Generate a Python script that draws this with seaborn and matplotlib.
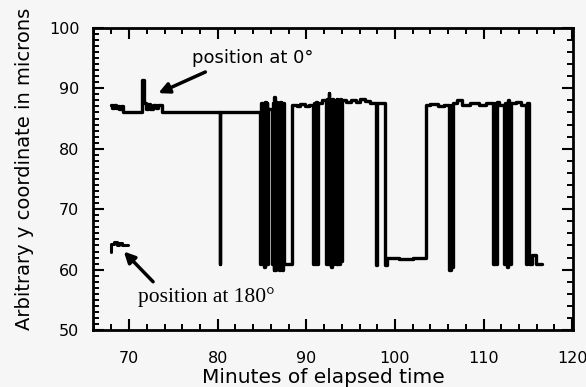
import matplotlib
matplotlib.use('Agg')
import matplotlib.pyplot as plt
import seaborn as sns
import pandas as pd
from matplotlib.ticker import MultipleLocator

# trace of the bead position (step data: value holds until next time)
t_main = [67.9, 68.1, 68.3, 68.5, 68.7, 68.9, 69.1, 69.3,
          71.5, 71.65, 71.9, 72.1, 72.4, 72.7, 73.0, 73.3, 73.7,
          80.2, 80.3,
          84.8, 84.9, 85.0, 85.1, 85.2, 85.3, 85.4, 85.5, 85.6, 85.7,
          86.1, 86.2, 86.3, 86.4, 86.5, 86.6, 86.7, 86.8, 86.9, 87.0,
          87.1, 87.2, 87.3, 87.4, 87.5, 87.6,
          88.4, 88.9, 89.3, 89.8, 90.3,
          90.8, 90.9, 91.0, 91.1, 91.2, 91.35, 91.8,
          92.2, 92.3, 92.4, 92.5, 92.6, 92.7, 92.8, 92.9, 93.0, 93.1,
          93.3, 93.4, 93.5, 93.6, 93.7, 93.8, 93.9, 94.05,
          94.5, 95.0, 95.6, 96.1, 96.6, 97.2,
          97.9, 98.0, 98.9, 99.1,
          100.5, 102.0, 103.5,
          104.0, 104.8, 105.5, 106.1, 106.3, 106.45, 106.6, 107.0, 107.6,
          108.5, 109.5, 110.3, 111.1, 111.25, 111.4, 111.55, 111.7,
          112.3, 112.45, 112.6, 112.75, 112.9, 113.05, 113.6, 114.2,
          114.8, 114.95, 115.15, 115.5, 115.9, 116.6]
y_main = [87.3, 86.7, 87.3, 86.8, 87.0, 86.6, 87.1, 86.0,
          91.4, 87.5, 86.6, 87.4, 86.6, 87.3, 86.7, 87.2, 86.0,
          61.0, 86.0,
          61.0, 87.6, 61.0, 87.5, 60.5, 87.7, 61.0, 87.5, 61.0, 86.5,
          61.0, 87.6, 60.0, 88.5, 60.0, 87.7, 61.0, 87.5, 60.0, 87.7,
          61.0, 87.5, 60.0, 87.6, 61.0, 61.0,
          87.2, 87.0, 87.4, 87.1, 87.3,
          61.0, 87.5, 61.0, 87.8, 61.0, 87.6, 88.0,
          61.0, 88.2, 61.0, 89.2, 61.0, 88.0, 60.5, 88.3, 61.0, 88.0,
          61.0, 88.2, 61.0, 88.0, 61.0, 88.3, 61.5, 88.0,
          87.8, 88.1, 87.8, 88.2, 87.9, 87.6,
          60.8, 87.5, 60.8, 62.0,
          61.7, 62.0, 87.2,
          87.4, 87.1, 87.3, 60.0, 87.3, 60.5, 87.5, 88.0, 87.2,
          87.5, 87.2, 87.6, 61.0, 87.5, 61.0, 87.8, 87.3,
          61.0, 87.5, 60.5, 88.0, 61.0, 87.5, 87.8, 87.2,
          61.0, 87.5, 61.0, 62.4, 61.0, 61.0]

# short record at the 180 degree position
t_180 = [67.9, 68.0, 68.3, 68.6, 68.9, 69.2, 69.6, 69.9]
y_180 = [62.9, 64.2, 64.5, 64.0, 64.4, 64.0, 64.1, 64.1]

bg = '#f6f6f6'
sns.set_style('ticks')
plt.rcParams['font.family'] = ['DejaVu Sans']
for k in ['text.color', 'axes.labelcolor', 'xtick.color', 'ytick.color',
          'axes.edgecolor']:
    plt.rcParams[k] = 'black'

fig, ax = plt.subplots(figsize=(5.86, 3.87), dpi=100)
fig.patch.set_facecolor(bg)
ax.set_facecolor(bg)
fig.subplots_adjust(left=0.159, right=0.978, bottom=0.147, top=0.928)

main = pd.DataFrame({'t': t_main, 'y': y_main})
pos180 = pd.DataFrame({'t': t_180, 'y': y_180})
sns.lineplot(data=main, x='t', y='y', estimator=None, color='black',
             lw=2.4, drawstyle='steps-post', ax=ax)
sns.lineplot(data=pos180, x='t', y='y', estimator=None, color='black',
             lw=2.2, drawstyle='steps-post', ax=ax)

ax.set_xlim(65.94, 120.1)
ax.set_ylim(50, 100)
ax.xaxis.set_major_locator(MultipleLocator(10))
ax.xaxis.set_minor_locator(MultipleLocator(2))
ax.yaxis.set_major_locator(MultipleLocator(10))
ax.yaxis.set_minor_locator(MultipleLocator(1))
ax.tick_params(which='major', direction='in', length=8, width=1.5,
               top=True, right=False)
ax.tick_params(which='minor', direction='in', length=4.5, width=1.4,
               top=True, right=False)
ax.tick_params(axis='x', labelsize=11.5, pad=15)
ax.tick_params(axis='y', labelsize=11.5, pad=10)
for s in ax.spines.values():
    s.set_linewidth(2)

# right side carries coarser minor ticks
axr = ax.twinx()
axr.set_ylim(50, 100)
axr.yaxis.set_major_locator(MultipleLocator(10))
axr.yaxis.set_minor_locator(MultipleLocator(2))
axr.tick_params(which='major', direction='in', length=8, width=1.5,
                labelright=False)
axr.tick_params(which='minor', direction='in', length=4.5, width=1.4)
for s in axr.spines.values():
    s.set_visible(False)

ax.set_xlabel('Minutes of elapsed time', fontsize=14.5)
ax.set_ylabel('Arbitrary y coordinate in microns', fontsize=14)
ax.xaxis.set_label_coords(0.48, -0.126)
ax.yaxis.set_label_coords(-0.124, 0.535)

arrow = dict(arrowstyle='-|>', color='black', lw=2.5, mutation_scale=16,
             shrinkA=0, shrinkB=0)
ax.annotate('position at 0°', xy=(73.3, 89.2), xytext=(84.0, 95.0),
            ha='center', va='center', fontsize=13, family='DejaVu Sans')
ax.annotate('', xy=(73.3, 89.2), xytext=(78.6, 92.7), arrowprops=arrow)
ax.annotate('position at 180°', xy=(69.4, 63.0), xytext=(78.75, 55.55),
            ha='center', va='center', fontsize=15.5,
            family='Liberation Serif')
ax.annotate('', xy=(69.4, 63.0), xytext=(72.7, 58.0), arrowprops=arrow)

plt.savefig('out.png', dpi=100, facecolor=bg)
